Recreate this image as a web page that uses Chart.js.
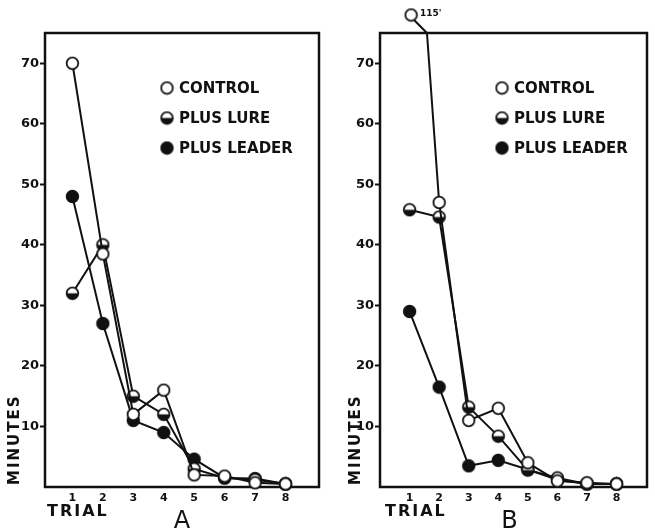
<!DOCTYPE html>
<html>
<head>
<meta charset="utf-8">
<script src="https://cdn.jsdelivr.net/npm/chart.js@4.4.1/dist/chart.umd.min.js"></script>
<style>
  body { margin: 0; background: #fff; width: 655px; height: 532px; overflow: hidden; position: relative; }
  .panel { position: absolute; top: 0; height: 532px; }
  #wrapA { left: 0; width: 327px; }
  #wrapB { left: 327px; width: 328px; }
</style>
</head>
<body>
<div class="panel" id="wrapA"><canvas id="chartA" width="327" height="532"></canvas></div>
<div class="panel" id="wrapB"><canvas id="chartB" width="328" height="532"></canvas></div>
<script>
// data (minutes per trial)
const trials = [1, 2, 3, 4, 5, 6, 7, 8];
const yTicks = [10, 20, 30, 40, 50, 60, 70];
const seriesNames = ["CONTROL", "PLUS LURE", "PLUS LEADER"];

const controlA = [70, 38.5, 12, 16, 2, 1.8, 0.7, 0.5];
const lureA = [32, 40, 15, 12, 3, 1.5, 1.2, 0.5];
const leaderA = [48, 27, 11, 9, 4.6, 1.5, 1.4, 0.5];

const controlB = [115, 47, 11, 13, 4, 1, 0.7, 0.5];
const lureB = [45.8, 44.6, 13.2, 8.4, 2.8, 1.5, 0.5, 0.5];
const leaderB = [29, 16.5, 3.5, 4.4, 2.9, 1.2, 0.5, 0.5];

const INK = "#111";
const FONT = "DejaVu Sans";

// marker images: open, half (bottom filled), filled
function makeMarker(kind) {
  const c = document.createElement("canvas");
  c.width = 15;
  c.height = 15;
  const g = c.getContext("2d");
  const r = 5.8;
  g.beginPath();
  g.arc(7.5, 7.5, r, 0, Math.PI * 2);
  g.fillStyle = kind === "filled" ? INK : "#fff";
  g.fill();
  if (kind === "half") {
    g.beginPath();
    g.arc(7.5, 7.5, r, 0, Math.PI);
    g.closePath();
    g.fillStyle = INK;
    g.fill();
  }
  g.lineWidth = 1.8;
  g.strokeStyle = INK;
  g.beginPath();
  g.arc(7.5, 7.5, r, 0, Math.PI * 2);
  g.stroke();
  return c;
}
const markers = [makeMarker("open"), makeMarker("half"), makeMarker("filled")];

// box around the plot area
const framePlugin = {
  id: "frame",
  beforeDatasetsDraw(chart) {
    const { ctx, chartArea: a } = chart;
    ctx.save();
    ctx.strokeStyle = INK;
    ctx.lineWidth = 2.5;
    ctx.strokeRect(a.left, a.top, a.right - a.left, a.bottom - a.top);
    ctx.restore();
  },
};

// legend inside the box + hand lettered titles
const labelsPlugin = {
  id: "labels",
  afterDraw(chart, args, opts) {
    const { ctx, chartArea: a } = chart;
    ctx.save();
    ctx.fillStyle = INK;
    ctx.textBaseline = "middle";

    // legend
    ctx.font = "bold 15px '" + FONT + "'";
    chart.data.datasets.forEach((ds, i) => {
      const lx = a.left + 122;
      const ly = a.top + 55 + i * 30;
      ctx.drawImage(markers[i], lx - 7.5, ly - 7.5);
      ctx.fillText(ds.label, lx + 12, ly + 1);
    });

    // TRIAL
    ctx.letterSpacing = "2px";
    ctx.font = "bold 16px '" + FONT + "'";
    ctx.textAlign = "left";
    ctx.fillText("TRIAL", a.left + opts.trialDx, 512);

    // MINUTES (vertical)
    ctx.save();
    ctx.translate(opts.minutesX, a.bottom - 2);
    ctx.rotate(-Math.PI / 2);
    ctx.font = "bold 15px '" + FONT + "'";
    ctx.fillText("MINUTES", 0, 0);
    ctx.restore();

    // panel letter
    ctx.letterSpacing = "0px";
    ctx.font = "24px '" + FONT + "'";
    ctx.textAlign = "center";
    ctx.fillText(opts.letter, (a.left + a.right) / 2 + opts.letterDx, 522);
    ctx.restore();
  },
};

// off-scale first point of the control series (panel B)
const brokenPlugin = {
  id: "broken",
  afterDatasetsDraw(chart, args, opts) {
    if (!opts.label) return;
    const { ctx, chartArea: a } = chart;
    const meta = chart.getDatasetMeta(0);
    const p0 = meta.data[0];
    const p1 = meta.data[1];
    const t = (a.top - p0.y) / (p1.y - p0.y);
    const cx = p0.x + t * (p1.x - p0.x);
    const mx = p0.x + 1.5;
    const my = a.top - 18;
    ctx.save();
    ctx.strokeStyle = INK;
    ctx.lineWidth = 2;
    ctx.beginPath();
    ctx.moveTo(mx + 3, my + 5);
    ctx.lineTo(cx, a.top);
    ctx.stroke();
    ctx.drawImage(markers[0], mx - 7.5, my - 7.5);
    ctx.fillStyle = INK;
    ctx.font = "bold 9px '" + FONT + "'";
    ctx.textBaseline = "middle";
    ctx.fillText(opts.label, mx + 9, my - 1);
    ctx.restore();
  },
};

function makeChart(id, series, panel) {
  return new Chart(document.getElementById(id), {
    type: "line",
    data: {
      datasets: series.map((vals, i) => ({
        label: seriesNames[i],
        data: trials.map((t, j) => ({ x: t, y: vals[j] })),
        borderColor: INK,
        borderWidth: 2,
        pointStyle: markers[i],
        pointRadius: 6,
        pointHoverRadius: 6,
        tension: 0,
        clip: { left: 10, right: 10, top: 0, bottom: 10 },
      })),
    },
    options: {
      responsive: false,
      animation: false,
      layout: { padding: { top: 33, right: panel.rightPad, left: 0, bottom: 0 } },
      plugins: {
        legend: { display: false },
        tooltip: { enabled: false },
        labels: { letter: panel.letter, minutesX: panel.minutesX, trialDx: panel.trialDx, letterDx: panel.letterDx },
        broken: { label: panel.brokenLabel },
      },
      scales: {
        x: {
          type: "linear",
          min: panel.xMin,
          max: panel.xMax,
          afterBuildTicks: (ax) => { ax.ticks = trials.map((v) => ({ value: v })); },
          afterFit: (s) => { s.height = 45; },
          grid: { display: false, drawTicks: false },
          border: { display: false },
          ticks: {
            color: INK,
            font: { family: FONT, size: 11, weight: "bold" },
            padding: 5,
            maxRotation: 0,
            autoSkip: false,
          },
        },
        y: {
          min: 0,
          max: 75,
          afterBuildTicks: (ax) => { ax.ticks = yTicks.map((v) => ({ value: v })); },
          afterFit: (s) => { s.width = panel.yWidth; },
          grid: { drawOnChartArea: false, tickLength: 5, tickWidth: 2, tickColor: INK },
          border: { display: false },
          ticks: {
            color: INK,
            font: { family: FONT, size: 13, weight: "bold" },
            padding: 1,
          },
        },
      },
    },
    plugins: [framePlugin, brokenPlugin, labelsPlugin],
  });
}

makeChart("chartA", [controlA, lureA, leaderA], {
  letter: "A", xMin: 0.1, xMax: 9.1, yWidth: 45, rightPad: 7,
  minutesX: 15, trialDx: 2, letterDx: 0, brokenLabel: null,
});
makeChart("chartB", [controlB, lureB, leaderB], {
  letter: "B", xMin: 0, xMax: 9.03, yWidth: 53, rightPad: 2,
  minutesX: 29, trialDx: 5, letterDx: -4, brokenLabel: "115'",
});
</script>
</body>
</html>
